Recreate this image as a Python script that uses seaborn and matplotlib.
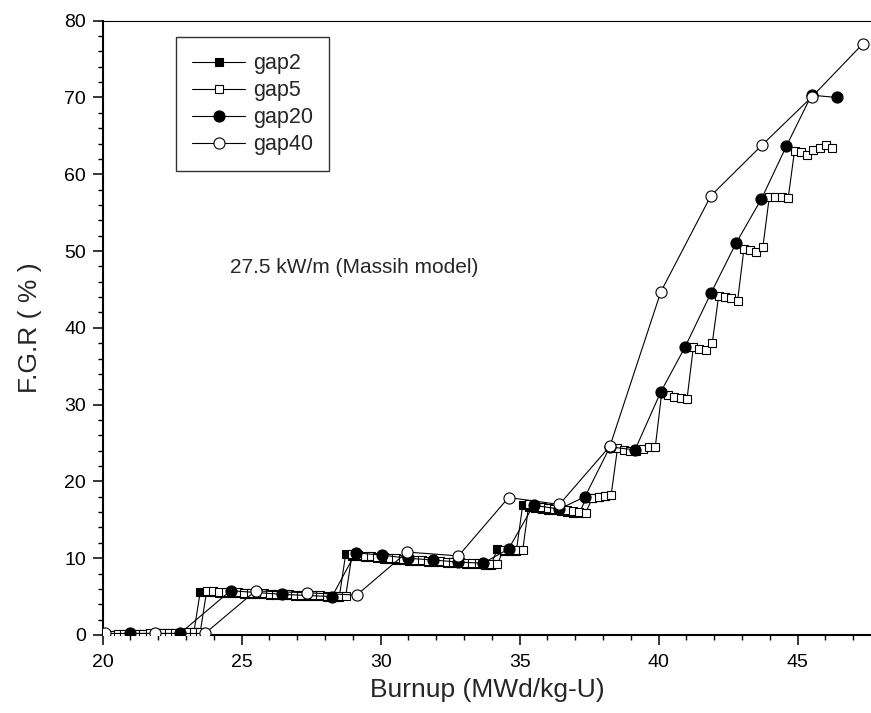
import matplotlib
matplotlib.use("Agg")
import matplotlib.pyplot as plt
import seaborn as sns
import pandas as pd
from matplotlib.ticker import MultipleLocator

# ---------------- data ----------------
gap5_x = [20.10, 20.33, 20.55, 20.78, 21.01, 21.24, 21.46, 21.69, 21.92, 22.15, 22.37, 22.60, 22.83, 23.06, 23.28, 23.51,
          23.74, 23.97, 24.19, 24.42, 24.65, 24.88, 25.10, 25.33, 25.56, 25.79, 26.01, 26.24, 26.47, 26.70, 26.92, 27.15,
          27.38, 27.60, 27.83, 28.06, 28.29, 28.51, 28.74,
          28.97, 29.20, 29.42, 29.65, 29.88, 30.11, 30.33, 30.56, 30.79, 31.02, 31.24, 31.47, 31.70, 31.93, 32.15, 32.38,
          32.61, 32.84, 33.06, 33.29, 33.52, 33.74, 33.97, 34.20,
          34.42, 34.65, 34.88, 35.11,
          35.33, 35.56, 35.79, 36.02, 36.24, 36.47, 36.70, 36.93, 37.15, 37.38,
          37.61, 37.84, 38.06, 38.29,
          38.52, 38.75, 38.97, 39.20, 39.43, 39.65, 39.88,
          40.11, 40.34, 40.56, 40.79, 41.02,
          41.25, 41.47, 41.70, 41.93,
          42.16, 42.38, 42.61, 42.84,
          43.07, 43.29, 43.52, 43.75,
          43.98, 44.20, 44.43, 44.66,
          44.89, 45.11, 45.34, 45.57, 45.80, 46.02, 46.25]
gap5_y = [0.00, 0.05, 0.08, 0.10, 0.13, 0.15, 0.18, 0.20, 0.22, 0.25, 0.27, 0.30, 0.32, 0.35, 0.37, 0.40,
          5.72, 5.70, 5.66, 5.62, 5.60, 5.56, 5.52, 5.50, 5.46, 5.43, 5.40, 5.36, 5.33, 5.30, 5.27, 5.24,
          5.21, 5.18, 5.15, 5.12, 5.08, 5.05, 5.02,
          10.50, 10.42, 10.34, 10.27, 10.20, 10.12, 10.05, 9.99, 9.92, 9.86, 9.80, 9.73, 9.68, 9.63, 9.59, 9.55,
          9.51, 9.46, 9.42, 9.38, 9.34, 9.30, 9.26, 9.22,
          11.10, 11.08, 11.05, 11.02,
          17.00, 16.85, 16.70, 16.55, 16.45, 16.35, 16.25, 16.10, 16.00, 15.95,
          17.80, 18.00, 18.10, 18.20,
          24.30, 24.10, 23.90, 23.90, 24.20, 24.50, 24.50,
          31.50, 31.20, 31.00, 30.80, 30.70,
          37.50, 37.30, 37.10, 38.00,
          44.20, 44.00, 43.85, 43.50,
          50.30, 50.10, 49.90, 50.50,
          57.00, 57.00, 57.10, 56.90,
          63.06, 62.85, 62.50, 63.10, 63.45, 63.80, 63.40]

gap2_x = [20.10, 20.33, 20.55, 20.78, 21.01, 21.24, 21.46, 21.69, 21.92, 22.15, 22.37, 22.60, 22.83, 23.06, 23.28, 23.51,
          23.74, 23.97, 24.19, 24.42, 24.65, 24.88, 25.10, 25.33, 25.56, 25.79, 26.01, 26.24, 26.47, 26.70, 26.92, 27.15,
          27.38, 27.60, 27.83, 28.06, 28.29, 28.51, 28.74,
          28.97, 29.20, 29.42, 29.65, 29.88, 30.11, 30.33, 30.56, 30.79, 31.02, 31.24, 31.47, 31.70, 31.93, 32.15, 32.38,
          32.61, 32.84, 33.06, 33.29, 33.52, 33.74, 33.97, 34.20,
          34.42, 34.65, 34.88, 35.11,
          35.33, 35.56, 35.79, 36.02, 36.24, 36.47, 36.70, 36.93, 37.15, 37.38,
          37.61, 37.84, 38.06]
gap2_y = [0.00, 0.03, 0.05, 0.08, 0.10, 0.13, 0.15, 0.18, 0.20, 0.22, 0.25, 0.27, 0.30, 0.32, 0.35,
          5.65,
          5.60, 5.56, 5.52, 5.50, 5.46, 5.42, 5.40, 5.36, 5.33, 5.30, 5.26, 5.23, 5.20, 5.17, 5.14, 5.11,
          5.08, 5.05, 5.02, 4.98, 4.95, 4.92,
          10.50,
          10.32, 10.24, 10.17, 10.10, 10.02, 9.95, 9.89, 9.82, 9.76, 9.70, 9.63, 9.58, 9.53, 9.49, 9.45, 9.41,
          9.36, 9.32, 9.28, 9.24, 9.20, 9.16, 9.12,
          11.20,
          11.00, 10.98, 10.95,
          16.90,
          16.73, 16.58, 16.43, 16.33, 16.23, 16.13, 15.98, 15.88, 15.83,
          17.80,
          17.90, 18.00, 18.05]

gap20_x = [20.98, 22.78, 24.60, 26.44, 28.25, 29.10, 30.05, 30.97, 31.87, 32.78, 33.68, 34.60, 35.50,
           36.42, 37.35, 38.25, 39.15, 40.07, 40.95, 41.88, 42.78, 43.70, 44.60, 45.50, 46.40]
gap20_y = [0.20, 0.20, 5.77, 5.30, 5.00, 10.70, 10.40, 10.00, 9.77, 9.50, 9.35, 11.20, 16.90,
           16.40, 18.00, 24.50, 24.10, 31.60, 37.50, 44.50, 51.00, 56.80, 63.70, 70.30, 70.00]

gap40_x = [20.08, 21.88, 23.68, 25.50, 27.34, 29.14, 30.95, 32.80, 34.60, 36.43, 38.25, 40.08, 41.88,
           43.72, 45.52, 47.35]
gap40_y = [0.20, 0.20, 0.20, 5.75, 5.50, 5.20, 10.80, 10.30, 17.90, 17.00, 24.60, 44.70, 57.20,
           63.80, 70.10, 77.00]

series_names = ["gap2", "gap5", "gap20", "gap40"]
annotation = "27.5 kW/m (Massih model)"
x_label = "Burnup (MWd/kg-U)"
y_label = "F.G.R ( % )"

# ---------------- style ----------------
sns.set_style("ticks")
plt.rcParams['font.family'] = ['Liberation Sans', 'DejaVu Sans']
plt.rcParams['xtick.direction'] = 'out'
plt.rcParams['ytick.direction'] = 'out'

fig = plt.figure(figsize=(8.71, 7.13), dpi=100)
ax = fig.add_axes([0.1179, 0.1094, 0.8821, 0.8616])

styles = {
    "gap2":  dict(marker="s", markerfacecolor="black", markersize=6.0),
    "gap5":  dict(marker="s", markerfacecolor="white", markersize=6.0),
    "gap20": dict(marker="o", markerfacecolor="black", markersize=8.0),
    "gap40": dict(marker="o", markerfacecolor="white", markersize=8.0),
}
data = {
    "gap2": (gap2_x, gap2_y),
    "gap5": (gap5_x, gap5_y),
    "gap20": (gap20_x, gap20_y),
    "gap40": (gap40_x, gap40_y),
}

for i, name in enumerate(series_names):
    xs, ys = data[name]
    df = pd.DataFrame({"x": xs, "y": ys})
    sns.lineplot(data=df, x="x", y="y", ax=ax, estimator=None, sort=False,
                 color="black", linewidth=0.8, markeredgecolor="black",
                 markeredgewidth=0.8, label=name, zorder=2 + i, **styles[name])

ax.set_xlim(20, 47.64)
ax.set_ylim(0, 80)
ax.xaxis.set_major_locator(MultipleLocator(5))
ax.xaxis.set_minor_locator(MultipleLocator(1))
ax.yaxis.set_major_locator(MultipleLocator(10))
ax.yaxis.set_minor_locator(MultipleLocator(2))
ax.tick_params(which="major", length=7, width=1.1, labelsize=14, color="black", labelcolor="black")
ax.tick_params(axis="x", which="major", pad=7)
ax.tick_params(axis="y", which="major", pad=5)
ax.tick_params(which="minor", length=3.6, width=1.0, color="black")
ax.tick_params(top=False, right=False, which="both")

for side in ["left", "bottom"]:
    ax.spines[side].set_linewidth(1.5)
    ax.spines[side].set_color("black")
ax.spines["top"].set_visible(True)
ax.spines["top"].set_linewidth(0.8)
ax.spines["top"].set_color("black")
ax.spines["right"].set_visible(False)

ax.set_xlabel(x_label, fontsize=19, labelpad=5)
ax.set_ylabel(y_label, fontsize=19, labelpad=16)

ax.text(24.58, 47.9, annotation, fontsize=15, ha="left", va="center")

leg = ax.legend(loc="upper left", bbox_to_anchor=(0.0954, 0.9735), frameon=True,
                fancybox=False, shadow=False, fontsize=15.5, handlelength=2.45,
                handletextpad=0.38, borderpad=0.75, labelspacing=0.28,
                borderaxespad=0)
leg.get_frame().set_edgecolor("#333333")
leg.get_frame().set_linewidth(1.0)
leg.get_frame().set_alpha(1)

fig.savefig("out.png", dpi=100)
